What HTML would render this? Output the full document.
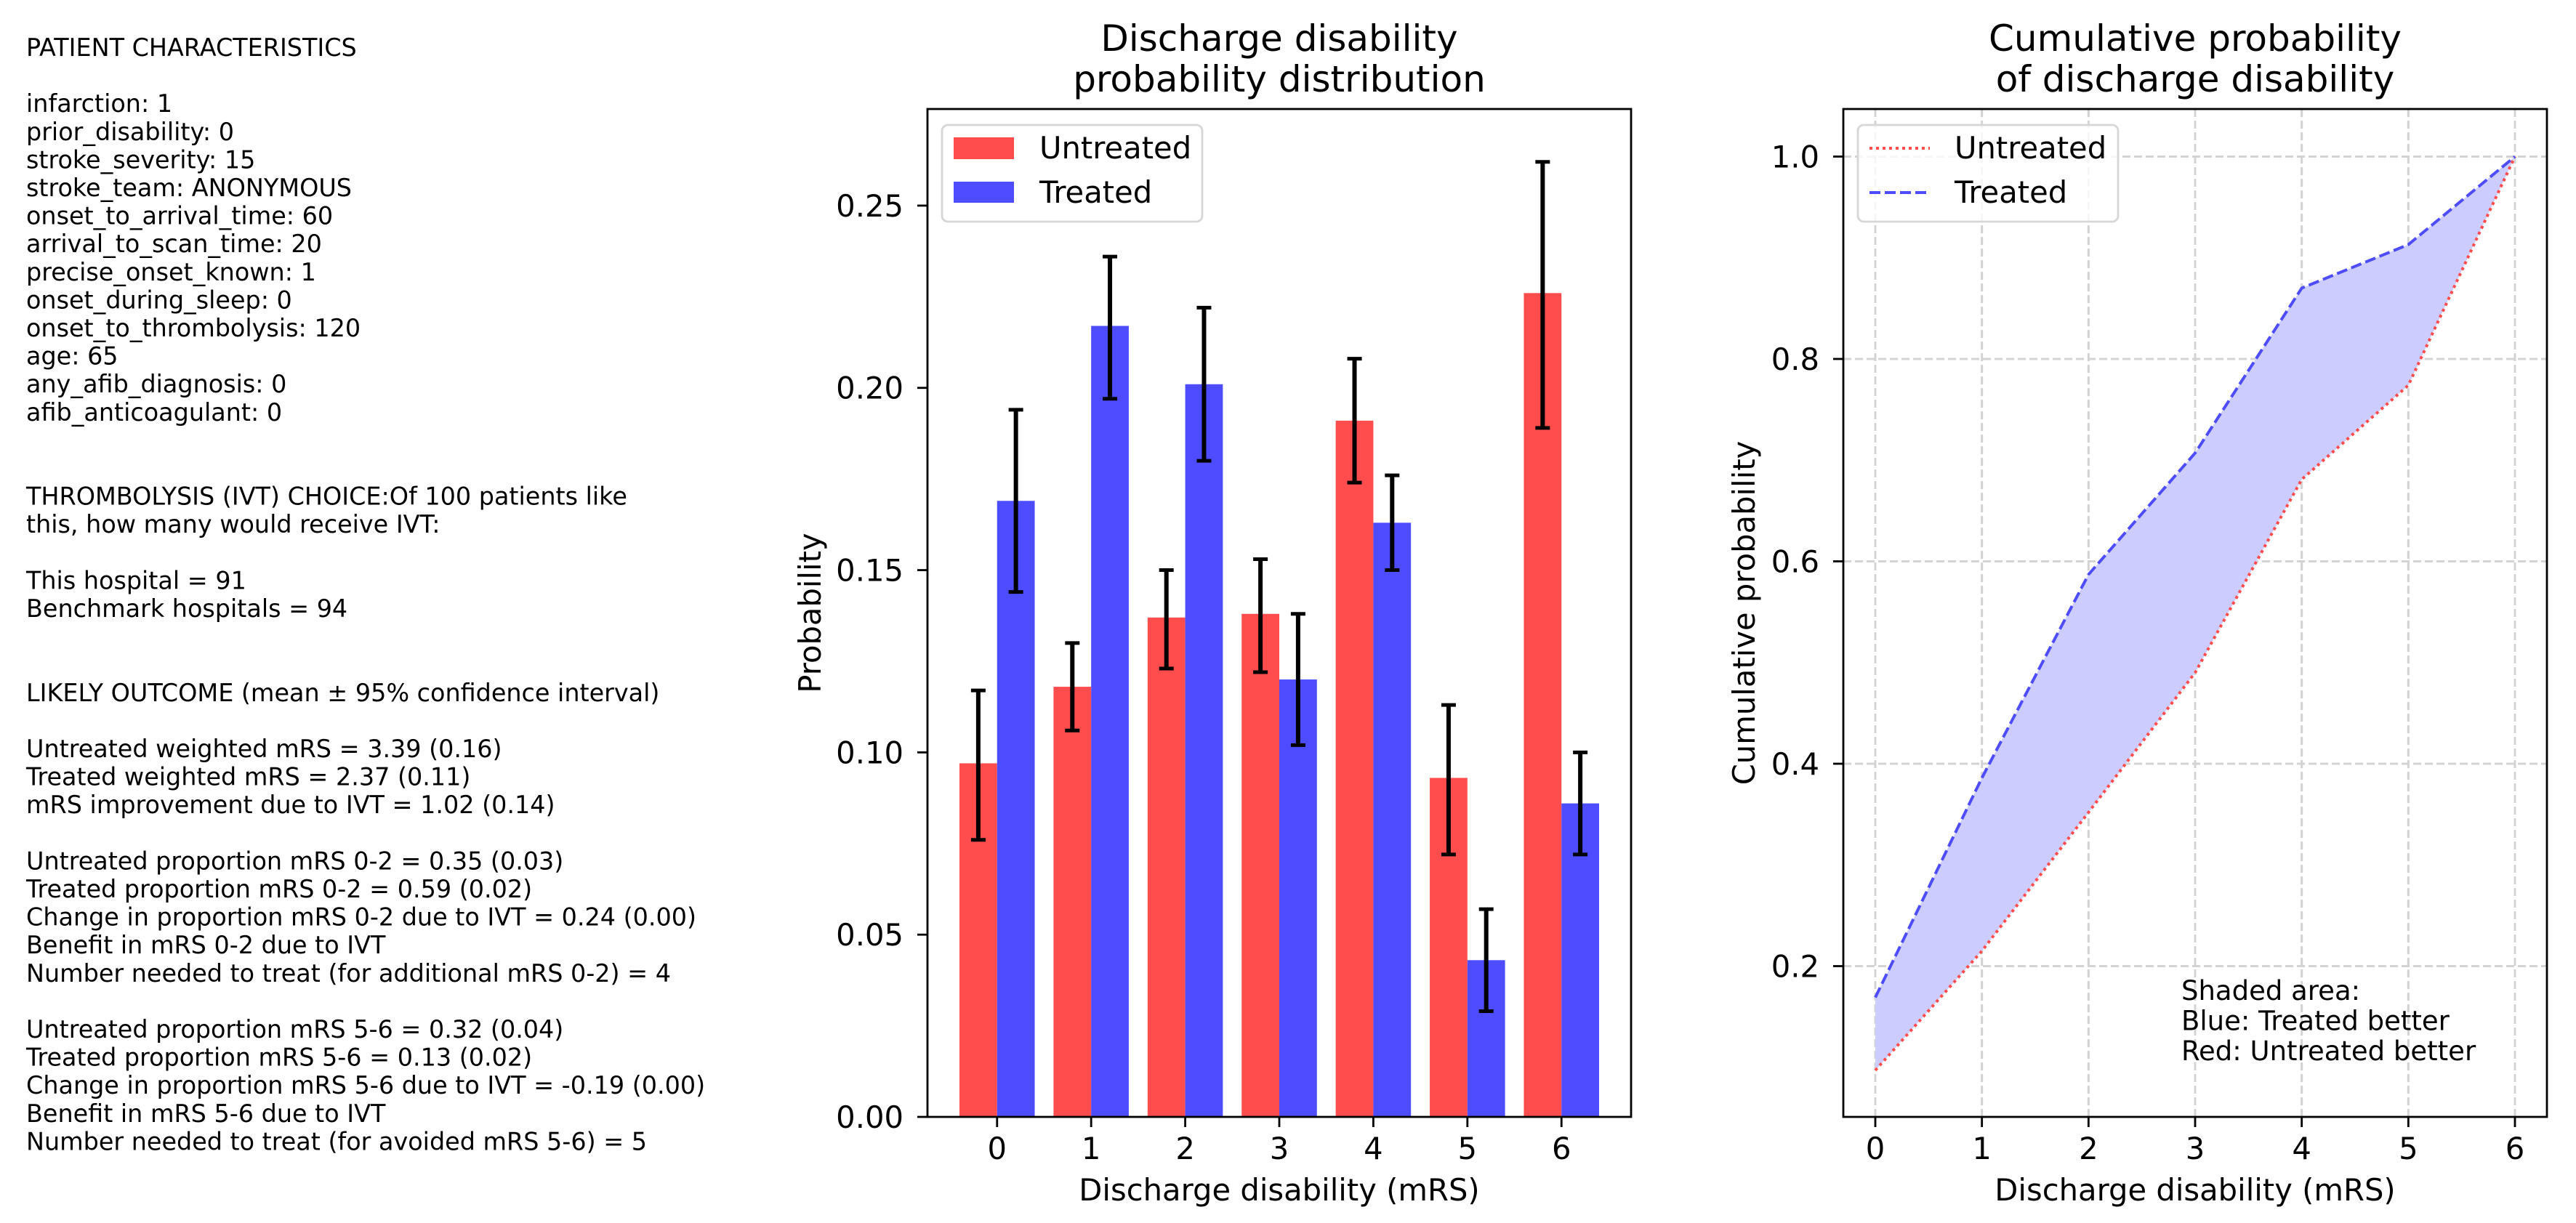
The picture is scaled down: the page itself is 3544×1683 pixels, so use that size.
<!DOCTYPE html>
<html><head><meta charset="utf-8">
<style>
html,body{margin:0;padding:0;background:#fff;}
svg{display:block;}
text{font-family:"DejaVu Sans","Liberation Sans",sans-serif;fill:#000;}
</style></head>
<body>
<svg id="fig" width="3544" height="1683" viewBox="0 0 3544 1683" xmlns="http://www.w3.org/2000/svg">
<rect width="3544" height="1683" fill="#fff"/>
<g id="info"></g>
<g id="bar"></g>
<g id="cum"></g>
</svg>
<script>
const categories = [0,1,2,3,4,5,6];
const untreatedProb = [0.097,0.118,0.137,0.138,0.191,0.093,0.226];
const untreatedHi = [0.117,0.130,0.150,0.153,0.208,0.113,0.262];
const untreatedLo = [0.076,0.106,0.123,0.122,0.174,0.072,0.189];
const treatedProb = [0.169,0.217,0.201,0.120,0.163,0.043,0.086];
const treatedHi = [0.194,0.236,0.222,0.138,0.176,0.057,0.100];
const treatedLo = [0.144,0.197,0.180,0.102,0.150,0.029,0.072];
const barYTicks = [0, 0.05, 0.10, 0.15, 0.20, 0.25];
const barYTickLabels = ["0.00","0.05","0.10","0.15","0.20","0.25"];
const untreatedCum = [0.097,0.215,0.352,0.490,0.681,0.774,1.0];
const treatedCum = [0.169,0.386,0.587,0.707,0.870,0.913,1.0];
const cumYTicks = [0.2,0.4,0.6,0.8,1.0];
const cumYTickLabels = ["0.2","0.4","0.6","0.8","1.0"];
const infoLines = [
"PATIENT CHARACTERISTICS","",
"infarction: 1","prior_disability: 0","stroke_severity: 15","stroke_team: ANONYMOUS",
"onset_to_arrival_time: 60","arrival_to_scan_time: 20","precise_onset_known: 1",
"onset_during_sleep: 0","onset_to_thrombolysis: 120","age: 65","any_afib_diagnosis: 0",
"afib_anticoagulant: 0","","",
"THROMBOLYSIS (IVT) CHOICE:Of 100 patients like","this, how many would receive IVT:","",
"This hospital = 91","Benchmark hospitals = 94","","",
"LIKELY OUTCOME (mean \u00b1 95% confidence interval)","",
"Untreated weighted mRS = 3.39 (0.16)","Treated weighted mRS = 2.37 (0.11)",
"mRS improvement due to IVT = 1.02 (0.14)","",
"Untreated proportion mRS 0-2 = 0.35 (0.03)","Treated proportion mRS 0-2 = 0.59 (0.02)",
"Change in proportion mRS 0-2 due to IVT = 0.24 (0.00)","Benefit in mRS 0-2 due to IVT",
"Number needed to treat (for additional mRS 0-2) = 4","",
"Untreated proportion mRS 5-6 = 0.32 (0.04)","Treated proportion mRS 5-6 = 0.13 (0.02)",
"Change in proportion mRS 5-6 due to IVT = -0.19 (0.00)","Benefit in mRS 5-6 due to IVT",
"Number needed to treat (for avoided mRS 5-6) = 5"
];

const NS="http://www.w3.org/2000/svg";
function mk(parent, tag, attrs, txt){
  const e=document.createElementNS(NS,tag);
  for(const k in attrs) e.setAttribute(k, attrs[k]);
  if(txt!==undefined) e.textContent=txt;
  parent.appendChild(e); return e;
}

// Info text
const info=document.getElementById('info');
infoLines.forEach((s,i)=>{
  if(!s) return;
  const t=mk(info,'text',{x:36,y:77+i*38.6,'font-size':33.4},s);
  
  
});

// Bar chart
const bg=document.getElementById('bar');
const B={l:1276,r:2244,t:150,b:1537,xmin:-0.74,xmax:6.74,ymin:0,ymax:0.2765};
const bx=v=>B.l+(v-B.xmin)/(B.xmax-B.xmin)*(B.r-B.l);
const by=v=>B.b-(v-B.ymin)/(B.ymax-B.ymin)*(B.b-B.t);
categories.forEach((c,i)=>{
  const r=mk(bg,'rect',{x:bx(c-0.4),y:by(untreatedProb[i]),width:bx(c)-bx(c-0.4),height:by(0)-by(untreatedProb[i]),fill:'#ff4d4d'});
  
  
  const r2=mk(bg,'rect',{x:bx(c),y:by(treatedProb[i]),width:bx(c+0.4)-bx(c),height:by(0)-by(treatedProb[i]),fill:'#4d4dff'});
  
  
});
function errbar(x,lo,hi,name){
  const g=mk(bg,'g',{stroke:'#000','stroke-width':6});
  
  
  mk(g,'line',{x1:x,x2:x,y1:by(lo),y2:by(hi)});
  mk(g,'line',{x1:x-10,x2:x+10,y1:by(lo),y2:by(lo),'stroke-width':5});
  mk(g,'line',{x1:x-10,x2:x+10,y1:by(hi),y2:by(hi),'stroke-width':5});
}
categories.forEach((c,i)=>{
  errbar(bx(c-0.2),untreatedLo[i],untreatedHi[i],'errorbar-untreated-'+c);
  errbar(bx(c+0.2),treatedLo[i],treatedHi[i],'errorbar-treated-'+c);
});
mk(bg,'rect',{x:B.l,y:B.t,width:B.r-B.l,height:B.b-B.t,fill:'none',stroke:'#000','stroke-width':2.8});
barYTicks.forEach((v,i)=>{
  mk(bg,'line',{x1:B.l-14,x2:B.l,y1:by(v),y2:by(v),stroke:'#000','stroke-width':2.8});
  const t=mk(bg,'text',{x:B.l-33,y:by(v)+15,'font-size':41.7,'text-anchor':'end'},barYTickLabels[i]);
  
  
});
categories.forEach(c=>{
  mk(bg,'line',{x1:bx(c),x2:bx(c),y1:B.b,y2:B.b+14,stroke:'#000','stroke-width':2.8});
  const t=mk(bg,'text',{x:bx(c),y:1595,'font-size':41.7,'text-anchor':'middle'},String(c));
  
  
});
(function(){
  const cx=(B.l+B.r)/2;
  let t=mk(bg,'text',{x:cx,y:70,'font-size':50,'text-anchor':'middle'},'Discharge disability');
   
  t=mk(bg,'text',{x:cx,y:126,'font-size':50,'text-anchor':'middle'},'probability distribution');
   
  t=mk(bg,'text',{x:cx,y:1652,'font-size':41.7,'text-anchor':'middle'},'Discharge disability (mRS)');
   
  t=mk(bg,'text',{x:0,y:0,'font-size':41.7,'text-anchor':'middle',transform:'translate(1129,'+((B.t+B.b)/2)+') rotate(-90)'},'Probability');
   
  const lg=mk(bg,'g',{});
   
  mk(lg,'rect',{x:1296,y:172,width:358,height:133,rx:8,fill:'#fff','fill-opacity':0.8,stroke:'#d6d6d6','stroke-width':2.8});
  mk(lg,'rect',{x:1312,y:189,width:83,height:30,fill:'#ff4d4d'});
  mk(lg,'rect',{x:1312,y:250,width:83,height:29,fill:'#4d4dff'});
  t=mk(lg,'text',{x:1430,y:218,'font-size':41.7},'Untreated');
   
  t=mk(lg,'text',{x:1430,y:279,'font-size':41.7},'Treated');
   
})();

// Cumulative chart
const cg=document.getElementById('cum');
const C={l:2536,r:3504,t:150,b:1537,xmin:-0.3,xmax:6.3,ymin:0.051,ymax:1.047};
const cx=v=>C.l+(v-C.xmin)/(C.xmax-C.xmin)*(C.r-C.l);
const cy=v=>C.b-(v-C.ymin)/(C.ymax-C.ymin)*(C.b-C.t);
categories.forEach(c=>{
  const l=mk(cg,'line',{x1:cx(c),x2:cx(c),y1:C.t,y2:C.b,stroke:'#d3d3d3','stroke-width':3,'stroke-dasharray':'11 5'});
   
});
cumYTicks.forEach(v=>{
  const l=mk(cg,'line',{x1:C.l,x2:C.r,y1:cy(v),y2:cy(v),stroke:'#d3d3d3','stroke-width':3,'stroke-dasharray':'11 5'});
   
});
let pts=categories.map((c,i)=>cx(c)+','+cy(treatedCum[i]));
pts=pts.concat(categories.slice().reverse().map(c=>cx(c)+','+cy(untreatedCum[c])));
const area=mk(cg,'polygon',{points:pts.join(' '),fill:'#ccccff'});
 
const lu=mk(cg,'polyline',{points:categories.map((c,i)=>cx(c)+','+cy(untreatedCum[i])).join(' '),fill:'none',stroke:'#ff4d4d','stroke-width':4,'stroke-dasharray':'4 5'});
 
const lt=mk(cg,'polyline',{points:categories.map((c,i)=>cx(c)+','+cy(treatedCum[i])).join(' '),fill:'none',stroke:'#4d4dff','stroke-width':4,'stroke-dasharray':'15 6'});
 
mk(cg,'rect',{x:C.l,y:C.t,width:C.r-C.l,height:C.b-C.t,fill:'none',stroke:'#000','stroke-width':2.8});
cumYTicks.forEach((v,i)=>{
  mk(cg,'line',{x1:C.l-14,x2:C.l,y1:cy(v),y2:cy(v),stroke:'#000','stroke-width':2.8});
  const t=mk(cg,'text',{x:C.l-33,y:cy(v)+15,'font-size':41.7,'text-anchor':'end'},cumYTickLabels[i]);
   
});
categories.forEach(c=>{
  mk(cg,'line',{x1:cx(c),x2:cx(c),y1:C.b,y2:C.b+14,stroke:'#000','stroke-width':2.8});
  const t=mk(cg,'text',{x:cx(c),y:1595,'font-size':41.7,'text-anchor':'middle'},String(c));
   
});
(function(){
  const mx=(C.l+C.r)/2;
  let t=mk(cg,'text',{x:mx,y:70,'font-size':50,'text-anchor':'middle'},'Cumulative probability');
   
  t=mk(cg,'text',{x:mx,y:126,'font-size':50,'text-anchor':'middle'},'of discharge disability');
   
  t=mk(cg,'text',{x:mx,y:1652,'font-size':41.7,'text-anchor':'middle'},'Discharge disability (mRS)');
   
  t=mk(cg,'text',{x:0,y:0,'font-size':41.7,'text-anchor':'middle',transform:'translate(2414,'+((C.t+C.b)/2)+') rotate(-90)'},'Cumulative probability');
   
  ['Shaded area:','Blue: Treated better','Red: Untreated better'].forEach((s,i)=>{
    const a=mk(cg,'text',{x:3001,y:1376+i*41.5,'font-size':37},s);
     
  });
  const lg=mk(cg,'g',{});
   
  mk(lg,'rect',{x:2556,y:172,width:358,height:133,rx:8,fill:'#fff','fill-opacity':0.8,stroke:'#d6d6d6','stroke-width':2.8});
  mk(lg,'line',{x1:2572,x2:2655,y1:204,y2:204,stroke:'#ff4d4d','stroke-width':4,'stroke-dasharray':'4 5'});
  mk(lg,'line',{x1:2572,x2:2655,y1:265,y2:265,stroke:'#4d4dff','stroke-width':4,'stroke-dasharray':'15 6'});
  t=mk(lg,'text',{x:2689,y:218,'font-size':41.7},'Untreated');
   
  t=mk(lg,'text',{x:2689,y:279,'font-size':41.7},'Treated');
   
})();
</script>
</body></html>
